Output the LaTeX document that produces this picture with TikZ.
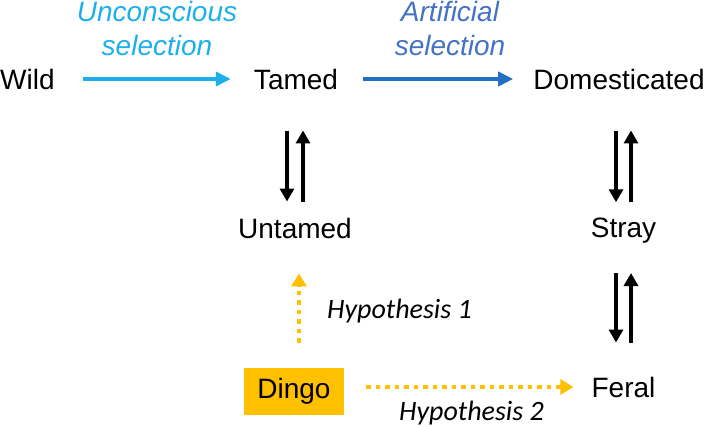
\documentclass[tikz,border=0pt]{standalone}
\usepackage{fontspec}
\setmainfont{Liberation Sans}
\newfontfamily\calib{Carlito}
\usetikzlibrary{arrows.meta,calc}
\definecolor{lblue}{RGB}{29,175,236}
\definecolor{dblue}{RGB}{34,112,192}
\definecolor{tblue}{RGB}{68,114,196}
\definecolor{gold}{RGB}{255,192,0}
\tikzset{
  lbl/.style={inner sep=0pt, font=\fontsize{28}{34}\selectfont},
  hyp/.style={inner sep=0pt, font=\calib\itshape\fontsize{28}{33}\selectfont},
  sel/.style={inner sep=0pt, align=center, font=\itshape\fontsize{28}{34}\selectfont},
  bluearr/.style={line width=4pt, -{Triangle[width=14pt,length=15pt]}},
  blkarr/.style={line width=4.5pt, black, -{Triangle[width=14pt,length=13pt]}},
  dotarr/.style={line width=4.5pt, gold, dash pattern=on 4.5pt off 5pt, -{Triangle[width=15pt,length=13pt]}},
  dingobox/.style={fill=gold, minimum width=100pt, minimum height=47pt, inner sep=0pt, font=\fontsize{28}{34}\selectfont}
}
\begin{document}
\begin{tikzpicture}[x=1pt,y=-1pt]
\useasboundingbox (0,0) rectangle (709,426);
% nodes
\node[lbl, anchor=base west] (wild) at (0,89) {Wild};
\node[lbl, anchor=base] (tamed) at (296,89) {Tamed};
\node[lbl, anchor=base] (dom) at (619,89) {Domesticated};
\node[lbl, anchor=base] (untamed) at (295,238) {Untamed};
\node[lbl, anchor=base] (stray) at (623.5,237) {Stray};
\node[lbl, anchor=base] (feral) at (623.5,397) {Feral};
\node[dingobox] (dingo) at (294,391.5) {Dingo};
\node[sel, text=lblue, anchor=north] (uns) at (157,1) {Unconscious\\selection};
\node[sel, text=tblue, anchor=north] (art) at (450,1) {Artificial\\selection};
\node[hyp, anchor=base west] (h1) at (327,318) {Hypothesis 1};
\node[hyp, anchor=base west] (h2) at (399,420) {Hypothesis 2};
% blue arrows
\draw[bluearr, lblue, shorten <=28pt, shorten >=23pt] (wild.east) -- (tamed.west);
\draw[bluearr, dblue, shorten <=25pt, shorten >=20pt] (tamed.east) -- (dom.west);
% black arrows tamed/untamed
\draw[blkarr, shorten <=42pt, shorten >=16pt] ([xshift=-8]untamed.north |- tamed.south) -- ([xshift=-8]untamed.north);
\draw[blkarr, shorten <=16pt, shorten >=41pt] ([xshift=8]untamed.north) -- ([xshift=8]untamed.north |- tamed.south);
% black arrows domesticated/stray
\draw[blkarr, shorten <=42pt, shorten >=15pt] ([xshift=-7.5]stray.north |- dom.south) -- ([xshift=-7.5]stray.north);
\draw[blkarr, shorten <=15pt, shorten >=41pt] ([xshift=7.5]stray.north) -- ([xshift=7.5]stray.north |- dom.south);
% black arrows stray/feral
\draw[blkarr, shorten <=30pt, shorten >=34pt] ([xshift=-7.5]stray.south) -- ([xshift=-7.5]feral.north);
\draw[blkarr, shorten <=34pt, shorten >=30pt] ([xshift=7.5]feral.north) -- ([xshift=7.5]stray.south);
% dotted hypotheses
\draw[dotarr, shorten <=25pt, shorten >=35pt] ([xshift=5]dingo.north) -- ([xshift=5]dingo.north |- untamed.south);
\draw[dotarr, shorten <=22pt, shorten >=18pt] (dingo.east |- feral.west) -- (feral.west);
\end{tikzpicture}
\end{document}
